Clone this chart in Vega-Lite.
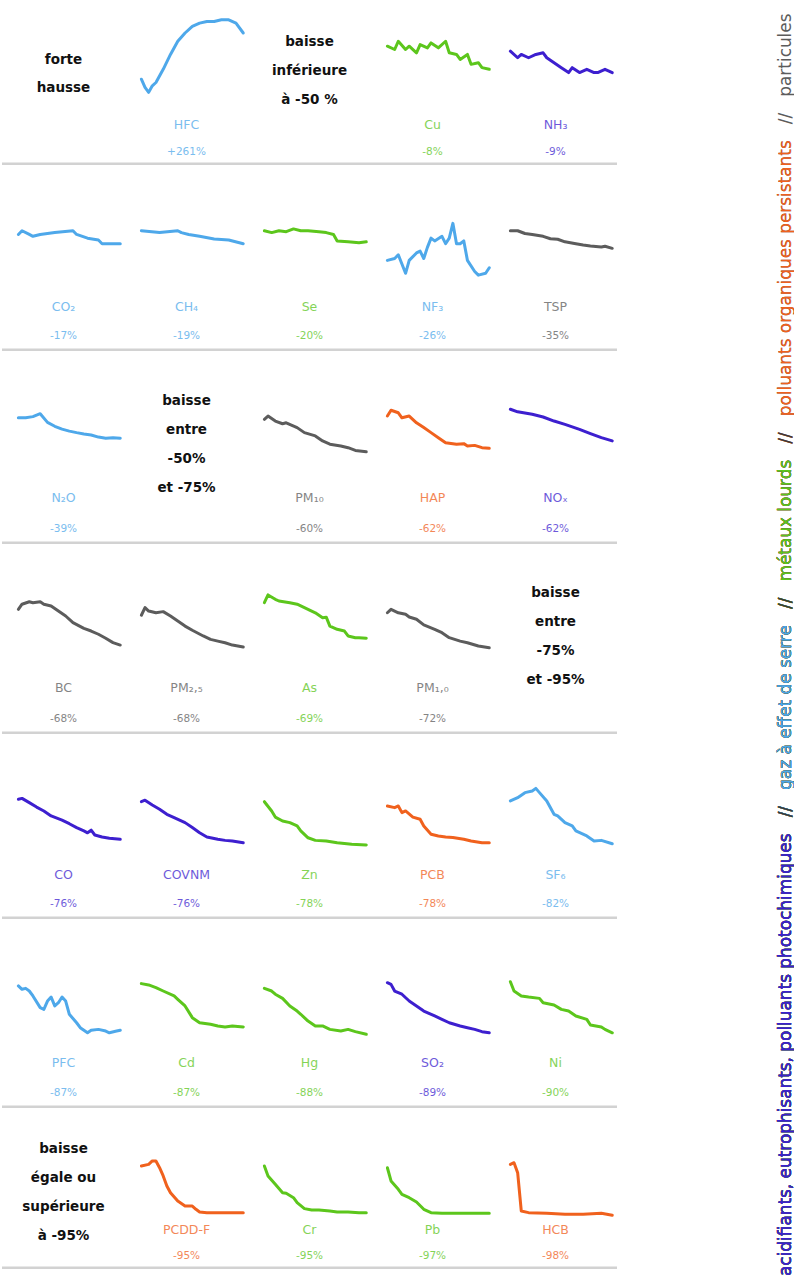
{
"$schema": "https://vega.github.io/schema/vega-lite/v6.json",
"padding": 0,
"config": {"view": {"stroke": null}, "font": "DejaVu Sans", "text": {"font": "DejaVu Sans"}},
"datasets": {
"cells": [
{"r":1,"c":1,"cat":["forte","hausse"]},
{"r":1,"c":2,"name":"HFC","pct":"+261%","grp":"ges","years":[1990,1991,1992,1993,1994,1996,1998,2000,2002,2004,2006,2008,2010,2012,2014,2016,2018],"vals":[52,47,44,48,50,58,67,75,80,84,86,87,87,88,88,86,80]},
{"r":1,"c":3,"cat":["baisse","inférieure","à -50 %"]},
{"r":1,"c":4,"name":"Cu","pct":"-8%","grp":"met","years":[1990,1992,1993,1995,1996,1998,1999,2001,2002,2004,2006,2007,2009,2010,2012,2013,2015,2016,2018],"vals":[72,70,75,70,72,68,73,71,74,71,75,68,67,64,67,61,62,59,58]},
{"r":1,"c":5,"name":"NH₃","pct":"-9%","grp":"acid","years":[1990,1992,1993,1995,1997,1999,2000,2002,2004,2006,2007,2009,2011,2013,2014,2016,2018],"vals":[69,65,67,65,67,68,65,62,59,56,59,56,58,56,56,58,56]},
{"r":2,"c":1,"name":"CO₂","pct":"-17%","grp":"ges","years":[1990,1991,1993,1994,1996,2000,2005,2006,2009,2012,2013,2015,2018],"vals":[63,65,63,62,63,64,65,63,61,60,58,58,58]},
{"r":2,"c":2,"name":"CH₄","pct":"-19%","grp":"ges","years":[1990,1995,2000,2001,2003,2006,2010,2014,2018],"vals":[65,64,65,64,63,62,60.5,60,58]},
{"r":2,"c":3,"name":"Se","pct":"-20%","grp":"met","years":[1990,1992,1994,1996,1998,2000,2002,2005,2007,2009,2010,2013,2016,2018],"vals":[65,64,65,64.5,66,65,65,64.5,64,63,59.5,59,58.5,59]},
{"r":2,"c":4,"name":"NF₃","pct":"-26%","grp":"ges","years":[1990,1992,1993,1995,1996,1998,1999,2000,2001,2002,2003,2005,2006,2007,2008,2009,2010,2011,2012,2014,2015,2017,2018],"vals":[49,50,52,42,49,53,54,50,56,61,59.5,62,58,61,69,58,58,59.5,49,43,41,42,45]},
{"r":2,"c":5,"name":"TSP","pct":"-35%","grp":"part","years":[1990,1992,1994,1996,1999,2001,2003,2005,2008,2010,2012,2015,2016,2018],"vals":[65,65,63.5,63,62,60.7,60.4,59,58,57.3,56.8,56.2,56.6,55.5]},
{"r":3,"c":1,"name":"N₂O","pct":"-39%","grp":"ges","years":[1990,1992,1994,1996,1998,2000,2002,2004,2006,2008,2010,2012,2014,2016,2018],"vals":[65.4,65.4,66,67.5,63,61,59.5,58.5,57.7,57,56.5,55.4,54.8,55.1,54.8]},
{"r":3,"c":2,"cat":["baisse","entre","-50%","et -75%"]},
{"r":3,"c":3,"name":"PM₁₀","pct":"-60%","grp":"part","years":[1990,1991,1993,1995,1996,1999,2001,2004,2006,2008,2011,2013,2015,2018],"vals":[64.6,66.3,63.7,62.3,62.8,60.3,57.7,56,53.4,51.7,50.8,49.9,48.5,47.8]},
{"r":3,"c":4,"name":"HAP","pct":"-62%","grp":"pop","years":[1990,1991,1993,1994,1996,1998,2000,2002,2004,2006,2009,2011,2012,2014,2016,2018],"vals":[66.3,69.3,68,65.4,66.3,62.8,60.3,57.7,55.1,52.5,51.7,52,50.8,51.1,49.9,49.6]},
{"r":3,"c":5,"name":"NOₓ","pct":"-62%","grp":"acid","years":[1990,1992,1996,1999,2002,2005,2009,2012,2015,2018],"vals":[69.8,68.5,67.2,65.8,63.7,62,59.4,57.2,55.1,53.4]},
{"r":4,"c":1,"name":"BC","pct":"-68%","grp":"part","years":[1990,1991,1993,1994,1996,1997,1999,2001,2003,2005,2008,2010,2012,2014,2016,2018],"vals":[65.6,68.3,69.6,69.1,69.6,68.3,67.4,64.7,62.1,58.6,55.6,54.2,52.5,50.4,48.1,46.8]},
{"r":4,"c":2,"name":"PM₂,₅","pct":"-68%","grp":"part","years":[1990,1991,1992,1994,1996,1998,2000,2002,2004,2007,2009,2011,2013,2015,2018],"vals":[62.5,66.5,64.7,63.8,64.4,62.1,59.5,56.8,54.6,51.6,49.8,48.9,48,46.8,45.8]},
{"r":4,"c":3,"name":"As","pct":"-69%","grp":"met","years":[1990,1991,1993,1994,1997,1999,2001,2004,2006,2007,2008,2010,2012,2013,2015,2016,2018],"vals":[69.1,73.2,70.9,70,69.1,68.3,66.5,63.8,61.2,61.5,56.8,55.1,54.2,51.6,50.7,50.7,50.4]},
{"r":4,"c":4,"name":"PM₁,₀","pct":"-72%","grp":"part","years":[1990,1991,1993,1995,1996,1998,2000,2003,2005,2007,2010,2012,2015,2018],"vals":[63.8,65.6,63.8,63,61.6,60.4,57.4,55.1,53.3,50.7,48.9,48,46.3,45.4]},
{"r":4,"c":5,"cat":["baisse","entre","-75%","et -95%"]},
{"r":5,"c":1,"name":"CO","pct":"-76%","grp":"acid","years":[1990,1991,1993,1995,1997,1999,2002,2004,2006,2008,2009,2010,2011,2013,2015,2018],"vals":[64.7,65.2,62.9,60.5,58.4,55.7,53.4,51.5,49.4,47.6,46.6,48,45.4,44.3,43.6,43.1]},
{"r":5,"c":2,"name":"COVNM","pct":"-76%","grp":"acid","years":[1990,1991,1993,1995,1997,1999,2002,2004,2006,2008,2011,2013,2015,2018],"vals":[63.4,64.2,61.6,59.3,56.6,54.8,52.1,49.4,46.6,44.3,43.1,42.5,42.2,41.2]},
{"r":5,"c":3,"name":"Zn","pct":"-78%","grp":"met","years":[1990,1992,1993,1995,1997,1999,2000,2002,2004,2007,2010,2014,2018],"vals":[63.4,58.4,55.1,53,52.1,50.3,47.6,43.9,42.5,42.2,41.2,40.4,40]},
{"r":5,"c":4,"name":"PCB","pct":"-78%","grp":"pop","years":[1990,1992,1993,1994,1995,1997,1999,2000,2002,2004,2006,2008,2011,2013,2016,2018],"vals":[61.1,60.2,61.1,57.5,58.4,55.1,53.9,50.3,45.8,44.9,44.3,44,43.1,42.2,41.2,41.2]},
{"r":5,"c":5,"name":"SF₆","pct":"-82%","grp":"ges","years":[1990,1992,1994,1996,1997,1998,2000,2002,2003,2005,2007,2008,2011,2013,2015,2018],"vals":[63.8,65.6,68.3,69.2,70.6,68.3,63.8,56.6,55.7,52.1,50.3,47.6,44.9,42.2,42.5,40.7]},
{"r":6,"c":1,"name":"PFC","pct":"-87%","grp":"ges","years":[1990,1991,1992,1993,1994,1996,1997,1998,1999,2000,2001,2002,2003,2004,2006,2007,2009,2010,2012,2014,2015,2017,2018],"vals":[64.6,62.8,63.3,61.9,59.3,53.1,52.2,56.6,58.7,54,55.7,58.7,56.6,49.6,45.1,42.5,39.8,41.1,41.6,40.7,39.8,40.7,41.1]},
{"r":6,"c":2,"name":"Cd","pct":"-87%","grp":"met","years":[1990,1992,1994,1996,1999,2000,2002,2004,2006,2009,2011,2013,2015,2018],"vals":[65.8,65.1,63.7,61.9,59.3,57.5,54,47.8,45.1,44.3,43.4,42.9,43.4,42.9]},
{"r":6,"c":3,"name":"Hg","pct":"-88%","grp":"met","years":[1990,1992,1993,1995,1997,1999,2000,2002,2004,2006,2008,2011,2013,2015,2018],"vals":[63.3,61.9,60.2,58,54,51.3,49.6,46,43.4,43.4,41.6,40.7,41.6,40.4,39]},
{"r":6,"c":4,"name":"SO₂","pct":"-89%","grp":"acid","years":[1990,1991,1992,1994,1996,1998,2000,2003,2005,2007,2010,2012,2014,2016,2018],"vals":[66.3,65.4,61.9,60.2,56.6,54,51.3,48.7,46.9,45.1,43.4,42.5,41.6,40.4,39.8]},
{"r":6,"c":5,"name":"Ni","pct":"-90%","grp":"met","years":[1990,1991,1993,1995,1998,1999,2002,2004,2006,2008,2011,2012,2015,2016,2018],"vals":[66.8,61.9,59.3,58.7,58,55.7,54.5,52.2,51.3,48.7,46.9,43.9,42.9,41.6,39.8]},
{"r":7,"c":1,"cat":["baisse","égale ou","supérieure","à -95%"]},
{"r":7,"c":2,"name":"PCDD-F","pct":"-95%","grp":"pop","years":[1990,1992,1993,1994,1995,1996,1997,1998,2000,2002,2004,2005,2006,2008,2012,2015,2018],"vals":[64,65,67.1,67.1,62.9,57.8,51.6,47.4,42.2,39.1,39.1,37.1,35.4,35,35,35,35]},
{"r":7,"c":3,"name":"Cr","pct":"-95%","grp":"met","years":[1990,1991,1993,1995,1996,1998,1999,2001,2003,2005,2008,2010,2013,2016,2018],"vals":[64,57.8,52.6,47.4,47,44.3,41.2,37.5,36.6,36.6,36,35.4,35.4,35,35]},
{"r":7,"c":4,"name":"Pb","pct":"-97%","grp":"met","years":[1990,1991,1993,1994,1996,1998,2000,2002,2005,2011,2018],"vals":[62.9,54.7,49.5,46.4,44.3,41.6,37.1,35,34.6,34.6,34.6]},
{"r":7,"c":5,"name":"HCB","pct":"-98%","grp":"pop","years":[1990,1991,1992,1993,1995,2000,2005,2010,2015,2018],"vals":[65,66,59.8,36,35,34.6,34,34,34.6,33.4]}
],
"legend": [
{"txt":"acidifiants, eutrophisants, polluants photochimiques\u00a0\u00a0\u00a0//\u00a0\u00a0\u00a0gaz à effet de serre\u00a0\u00a0\u00a0//\u00a0\u00a0\u00a0métaux lourds\u00a0\u00a0\u00a0//\u00a0\u00a0\u00a0polluants organiques persistants\u00a0\u00a0\u00a0//\u00a0\u00a0\u00a0particules","grp":"part"},
{"txt":"acidifiants, eutrophisants, polluants photochimiques\u00a0\u00a0\u00a0//\u00a0\u00a0\u00a0gaz à effet de serre\u00a0\u00a0\u00a0//\u00a0\u00a0\u00a0métaux lourds\u00a0\u00a0\u00a0//\u00a0\u00a0\u00a0polluants organiques persistants","grp":"pop"},
{"txt":"acidifiants, eutrophisants, polluants photochimiques\u00a0\u00a0\u00a0//\u00a0\u00a0\u00a0gaz à effet de serre\u00a0\u00a0\u00a0//\u00a0\u00a0\u00a0métaux lourds\u00a0\u00a0\u00a0//","grp":"sep"},
{"txt":"acidifiants, eutrophisants, polluants photochimiques\u00a0\u00a0\u00a0//\u00a0\u00a0\u00a0gaz à effet de serre\u00a0\u00a0\u00a0//\u00a0\u00a0\u00a0métaux lourds","grp":"met"},
{"txt":"acidifiants, eutrophisants, polluants photochimiques\u00a0\u00a0\u00a0//\u00a0\u00a0\u00a0gaz à effet de serre\u00a0\u00a0\u00a0//","grp":"sep"},
{"txt":"acidifiants, eutrophisants, polluants photochimiques\u00a0\u00a0\u00a0//\u00a0\u00a0\u00a0gaz à effet de serre","grp":"ges"},
{"txt":"acidifiants, eutrophisants, polluants photochimiques\u00a0\u00a0\u00a0//","grp":"sep"},
{"txt":"acidifiants, eutrophisants, polluants photochimiques","grp":"acid"}
]
},
"spacing": 157,
"hconcat": [
{"spacing": 0, "vconcat": [
{"data":{"name":"cells"},"transform":[{"filter":"datum.r == 1"}],"facet":{"column":{"field":"c","type":"ordinal","title":null,"header":{"labels":false,"title":null}}},"spacing":0,"bounds":"flush",
 "spec":{"width":123,"height":165,"layer":[
  {"transform":[{"filter":"isValid(datum.vals)"},{"flatten":["years","vals"],"as":["year","v"]}],"mark":{"type":"line","strokeWidth":3,"strokeJoin":"round","strokeCap":"round"},"encoding":{"x":{"field":"year","type":"quantitative","scale":{"domain":[1985.5,2019.3]},"axis":null},"y":{"field":"v","type":"quantitative","scale":{"domain":[0,100]},"axis":null},"color":{"field":"grp","type":"nominal","scale":{"domain":["acid","ges","met","pop","part","sep"],"range":["#3d1fcf","#4ea8ea","#5cc61c","#f0611d","#5c5c5c","#3a3a3a"]},"legend":null}}},
  {"transform":[{"filter":"isValid(datum.name)"}],"mark":{"type":"text","fontSize":12.5,"opacity":0.75,"baseline":"middle"},"encoding":{"y":{"datum":24,"type":"quantitative"},"text":{"field":"name"},"color":{"field":"grp","type":"nominal","legend":null}}},
  {"transform":[{"filter":"isValid(datum.pct)"}],"mark":{"type":"text","fontSize":10.5,"opacity":0.75,"baseline":"middle"},"encoding":{"y":{"datum":8,"type":"quantitative"},"text":{"field":"pct"},"color":{"field":"grp","type":"nominal","legend":null}}},
  {"transform":[{"filter":"isValid(datum.cat) && length(datum.cat) == 2"}],"mark":{"type":"text","fontSize":13.5,"fontWeight":"bold","lineHeight":28,"color":"#111111","baseline":"middle"},"encoding":{"y":{"datum":63.6,"type":"quantitative"},"text":{"field":"cat"}}},
  {"transform":[{"filter":"isValid(datum.cat) && length(datum.cat) > 2"}],"mark":{"type":"text","fontSize":13.5,"fontWeight":"bold","lineHeight":29,"color":"#111111","baseline":"middle"},"encoding":{"y":{"datum":74.3,"type":"quantitative"},"text":{"field":"cat"}}},
  {"mark":{"type":"rule","color":"#d2d2d2","strokeWidth":2.5},"encoding":{"y":{"datum":0.7,"type":"quantitative"}}}
 ]}},
{"data":{"name":"cells"},"transform":[{"filter":"datum.r == 2"}],"facet":{"column":{"field":"c","type":"ordinal","title":null,"header":{"labels":false,"title":null}}},"spacing":0,"bounds":"flush",
 "spec":{"width":123,"height":185,"layer":[
  {"transform":[{"filter":"isValid(datum.vals)"},{"flatten":["years","vals"],"as":["year","v"]}],"mark":{"type":"line","strokeWidth":3,"strokeJoin":"round","strokeCap":"round"},"encoding":{"x":{"field":"year","type":"quantitative","scale":{"domain":[1985.5,2019.3]},"axis":null},"y":{"field":"v","type":"quantitative","scale":{"domain":[0,100]},"axis":null},"color":{"field":"grp","type":"nominal","scale":{"domain":["acid","ges","met","pop","part","sep"],"range":["#3d1fcf","#4ea8ea","#5cc61c","#f0611d","#5c5c5c","#3a3a3a"]},"legend":null}}},
  {"transform":[{"filter":"isValid(datum.name)"}],"mark":{"type":"text","fontSize":12.5,"opacity":0.75,"baseline":"middle"},"encoding":{"y":{"datum":24,"type":"quantitative"},"text":{"field":"name"},"color":{"field":"grp","type":"nominal","legend":null}}},
  {"transform":[{"filter":"isValid(datum.pct)"}],"mark":{"type":"text","fontSize":10.5,"opacity":0.75,"baseline":"middle"},"encoding":{"y":{"datum":8,"type":"quantitative"},"text":{"field":"pct"},"color":{"field":"grp","type":"nominal","legend":null}}},
  {"transform":[{"filter":"isValid(datum.cat) && length(datum.cat) == 2"}],"mark":{"type":"text","fontSize":13.5,"fontWeight":"bold","lineHeight":28,"color":"#111111","baseline":"middle"},"encoding":{"y":{"datum":63.6,"type":"quantitative"},"text":{"field":"cat"}}},
  {"transform":[{"filter":"isValid(datum.cat) && length(datum.cat) > 2"}],"mark":{"type":"text","fontSize":13.5,"fontWeight":"bold","lineHeight":29,"color":"#111111","baseline":"middle"},"encoding":{"y":{"datum":74.3,"type":"quantitative"},"text":{"field":"cat"}}},
  {"mark":{"type":"rule","color":"#d2d2d2","strokeWidth":2.5},"encoding":{"y":{"datum":0.7,"type":"quantitative"}}}
 ]}},
{"data":{"name":"cells"},"transform":[{"filter":"datum.r == 3"}],"facet":{"column":{"field":"c","type":"ordinal","title":null,"header":{"labels":false,"title":null}}},"spacing":0,"bounds":"flush",
 "spec":{"width":123,"height":193,"layer":[
  {"transform":[{"filter":"isValid(datum.vals)"},{"flatten":["years","vals"],"as":["year","v"]}],"mark":{"type":"line","strokeWidth":3,"strokeJoin":"round","strokeCap":"round"},"encoding":{"x":{"field":"year","type":"quantitative","scale":{"domain":[1985.5,2019.3]},"axis":null},"y":{"field":"v","type":"quantitative","scale":{"domain":[0,100]},"axis":null},"color":{"field":"grp","type":"nominal","scale":{"domain":["acid","ges","met","pop","part","sep"],"range":["#3d1fcf","#4ea8ea","#5cc61c","#f0611d","#5c5c5c","#3a3a3a"]},"legend":null}}},
  {"transform":[{"filter":"isValid(datum.name)"}],"mark":{"type":"text","fontSize":12.5,"opacity":0.75,"baseline":"middle"},"encoding":{"y":{"datum":24,"type":"quantitative"},"text":{"field":"name"},"color":{"field":"grp","type":"nominal","legend":null}}},
  {"transform":[{"filter":"isValid(datum.pct)"}],"mark":{"type":"text","fontSize":10.5,"opacity":0.75,"baseline":"middle"},"encoding":{"y":{"datum":8,"type":"quantitative"},"text":{"field":"pct"},"color":{"field":"grp","type":"nominal","legend":null}}},
  {"transform":[{"filter":"isValid(datum.cat) && length(datum.cat) == 2"}],"mark":{"type":"text","fontSize":13.5,"fontWeight":"bold","lineHeight":28,"color":"#111111","baseline":"middle"},"encoding":{"y":{"datum":63.6,"type":"quantitative"},"text":{"field":"cat"}}},
  {"transform":[{"filter":"isValid(datum.cat) && length(datum.cat) > 2"}],"mark":{"type":"text","fontSize":13.5,"fontWeight":"bold","lineHeight":29,"color":"#111111","baseline":"middle"},"encoding":{"y":{"datum":74.3,"type":"quantitative"},"text":{"field":"cat"}}},
  {"mark":{"type":"rule","color":"#d2d2d2","strokeWidth":2.5},"encoding":{"y":{"datum":0.7,"type":"quantitative"}}}
 ]}},
{"data":{"name":"cells"},"transform":[{"filter":"datum.r == 4"}],"facet":{"column":{"field":"c","type":"ordinal","title":null,"header":{"labels":false,"title":null}}},"spacing":0,"bounds":"flush",
 "spec":{"width":123,"height":190,"layer":[
  {"transform":[{"filter":"isValid(datum.vals)"},{"flatten":["years","vals"],"as":["year","v"]}],"mark":{"type":"line","strokeWidth":3,"strokeJoin":"round","strokeCap":"round"},"encoding":{"x":{"field":"year","type":"quantitative","scale":{"domain":[1985.5,2019.3]},"axis":null},"y":{"field":"v","type":"quantitative","scale":{"domain":[0,100]},"axis":null},"color":{"field":"grp","type":"nominal","scale":{"domain":["acid","ges","met","pop","part","sep"],"range":["#3d1fcf","#4ea8ea","#5cc61c","#f0611d","#5c5c5c","#3a3a3a"]},"legend":null}}},
  {"transform":[{"filter":"isValid(datum.name)"}],"mark":{"type":"text","fontSize":12.5,"opacity":0.75,"baseline":"middle"},"encoding":{"y":{"datum":24,"type":"quantitative"},"text":{"field":"name"},"color":{"field":"grp","type":"nominal","legend":null}}},
  {"transform":[{"filter":"isValid(datum.pct)"}],"mark":{"type":"text","fontSize":10.5,"opacity":0.75,"baseline":"middle"},"encoding":{"y":{"datum":8,"type":"quantitative"},"text":{"field":"pct"},"color":{"field":"grp","type":"nominal","legend":null}}},
  {"transform":[{"filter":"isValid(datum.cat) && length(datum.cat) == 2"}],"mark":{"type":"text","fontSize":13.5,"fontWeight":"bold","lineHeight":28,"color":"#111111","baseline":"middle"},"encoding":{"y":{"datum":63.6,"type":"quantitative"},"text":{"field":"cat"}}},
  {"transform":[{"filter":"isValid(datum.cat) && length(datum.cat) > 2"}],"mark":{"type":"text","fontSize":13.5,"fontWeight":"bold","lineHeight":29,"color":"#111111","baseline":"middle"},"encoding":{"y":{"datum":74.3,"type":"quantitative"},"text":{"field":"cat"}}},
  {"mark":{"type":"rule","color":"#d2d2d2","strokeWidth":2.5},"encoding":{"y":{"datum":0.7,"type":"quantitative"}}}
 ]}},
{"data":{"name":"cells"},"transform":[{"filter":"datum.r == 5"}],"facet":{"column":{"field":"c","type":"ordinal","title":null,"header":{"labels":false,"title":null}}},"spacing":0,"bounds":"flush",
 "spec":{"width":123,"height":185,"layer":[
  {"transform":[{"filter":"isValid(datum.vals)"},{"flatten":["years","vals"],"as":["year","v"]}],"mark":{"type":"line","strokeWidth":3,"strokeJoin":"round","strokeCap":"round"},"encoding":{"x":{"field":"year","type":"quantitative","scale":{"domain":[1985.5,2019.3]},"axis":null},"y":{"field":"v","type":"quantitative","scale":{"domain":[0,100]},"axis":null},"color":{"field":"grp","type":"nominal","scale":{"domain":["acid","ges","met","pop","part","sep"],"range":["#3d1fcf","#4ea8ea","#5cc61c","#f0611d","#5c5c5c","#3a3a3a"]},"legend":null}}},
  {"transform":[{"filter":"isValid(datum.name)"}],"mark":{"type":"text","fontSize":12.5,"opacity":0.75,"baseline":"middle"},"encoding":{"y":{"datum":24,"type":"quantitative"},"text":{"field":"name"},"color":{"field":"grp","type":"nominal","legend":null}}},
  {"transform":[{"filter":"isValid(datum.pct)"}],"mark":{"type":"text","fontSize":10.5,"opacity":0.75,"baseline":"middle"},"encoding":{"y":{"datum":8,"type":"quantitative"},"text":{"field":"pct"},"color":{"field":"grp","type":"nominal","legend":null}}},
  {"transform":[{"filter":"isValid(datum.cat) && length(datum.cat) == 2"}],"mark":{"type":"text","fontSize":13.5,"fontWeight":"bold","lineHeight":28,"color":"#111111","baseline":"middle"},"encoding":{"y":{"datum":63.6,"type":"quantitative"},"text":{"field":"cat"}}},
  {"transform":[{"filter":"isValid(datum.cat) && length(datum.cat) > 2"}],"mark":{"type":"text","fontSize":13.5,"fontWeight":"bold","lineHeight":29,"color":"#111111","baseline":"middle"},"encoding":{"y":{"datum":74.3,"type":"quantitative"},"text":{"field":"cat"}}},
  {"mark":{"type":"rule","color":"#d2d2d2","strokeWidth":2.5},"encoding":{"y":{"datum":0.7,"type":"quantitative"}}}
 ]}},
{"data":{"name":"cells"},"transform":[{"filter":"datum.r == 6"}],"facet":{"column":{"field":"c","type":"ordinal","title":null,"header":{"labels":false,"title":null}}},"spacing":0,"bounds":"flush",
 "spec":{"width":123,"height":189,"layer":[
  {"transform":[{"filter":"isValid(datum.vals)"},{"flatten":["years","vals"],"as":["year","v"]}],"mark":{"type":"line","strokeWidth":3,"strokeJoin":"round","strokeCap":"round"},"encoding":{"x":{"field":"year","type":"quantitative","scale":{"domain":[1985.5,2019.3]},"axis":null},"y":{"field":"v","type":"quantitative","scale":{"domain":[0,100]},"axis":null},"color":{"field":"grp","type":"nominal","scale":{"domain":["acid","ges","met","pop","part","sep"],"range":["#3d1fcf","#4ea8ea","#5cc61c","#f0611d","#5c5c5c","#3a3a3a"]},"legend":null}}},
  {"transform":[{"filter":"isValid(datum.name)"}],"mark":{"type":"text","fontSize":12.5,"opacity":0.75,"baseline":"middle"},"encoding":{"y":{"datum":24,"type":"quantitative"},"text":{"field":"name"},"color":{"field":"grp","type":"nominal","legend":null}}},
  {"transform":[{"filter":"isValid(datum.pct)"}],"mark":{"type":"text","fontSize":10.5,"opacity":0.75,"baseline":"middle"},"encoding":{"y":{"datum":8,"type":"quantitative"},"text":{"field":"pct"},"color":{"field":"grp","type":"nominal","legend":null}}},
  {"transform":[{"filter":"isValid(datum.cat) && length(datum.cat) == 2"}],"mark":{"type":"text","fontSize":13.5,"fontWeight":"bold","lineHeight":28,"color":"#111111","baseline":"middle"},"encoding":{"y":{"datum":63.6,"type":"quantitative"},"text":{"field":"cat"}}},
  {"transform":[{"filter":"isValid(datum.cat) && length(datum.cat) > 2"}],"mark":{"type":"text","fontSize":13.5,"fontWeight":"bold","lineHeight":29,"color":"#111111","baseline":"middle"},"encoding":{"y":{"datum":74.3,"type":"quantitative"},"text":{"field":"cat"}}},
  {"mark":{"type":"rule","color":"#d2d2d2","strokeWidth":2.5},"encoding":{"y":{"datum":0.7,"type":"quantitative"}}}
 ]}},
{"data":{"name":"cells"},"transform":[{"filter":"datum.r == 7"}],"facet":{"column":{"field":"c","type":"ordinal","title":null,"header":{"labels":false,"title":null}}},"spacing":0,"bounds":"flush",
 "spec":{"width":123,"height":161,"layer":[
  {"transform":[{"filter":"isValid(datum.vals)"},{"flatten":["years","vals"],"as":["year","v"]}],"mark":{"type":"line","strokeWidth":3,"strokeJoin":"round","strokeCap":"round"},"encoding":{"x":{"field":"year","type":"quantitative","scale":{"domain":[1985.5,2019.3]},"axis":null},"y":{"field":"v","type":"quantitative","scale":{"domain":[0,100]},"axis":null},"color":{"field":"grp","type":"nominal","scale":{"domain":["acid","ges","met","pop","part","sep"],"range":["#3d1fcf","#4ea8ea","#5cc61c","#f0611d","#5c5c5c","#3a3a3a"]},"legend":null}}},
  {"transform":[{"filter":"isValid(datum.name)"}],"mark":{"type":"text","fontSize":12.5,"opacity":0.75,"baseline":"middle"},"encoding":{"y":{"datum":24,"type":"quantitative"},"text":{"field":"name"},"color":{"field":"grp","type":"nominal","legend":null}}},
  {"transform":[{"filter":"isValid(datum.pct)"}],"mark":{"type":"text","fontSize":10.5,"opacity":0.75,"baseline":"middle"},"encoding":{"y":{"datum":8,"type":"quantitative"},"text":{"field":"pct"},"color":{"field":"grp","type":"nominal","legend":null}}},
  {"transform":[{"filter":"isValid(datum.cat) && length(datum.cat) == 2"}],"mark":{"type":"text","fontSize":13.5,"fontWeight":"bold","lineHeight":28,"color":"#111111","baseline":"middle"},"encoding":{"y":{"datum":63.6,"type":"quantitative"},"text":{"field":"cat"}}},
  {"transform":[{"filter":"isValid(datum.cat) && length(datum.cat) > 2"}],"mark":{"type":"text","fontSize":13.5,"fontWeight":"bold","lineHeight":29,"color":"#111111","baseline":"middle"},"encoding":{"y":{"datum":74.3,"type":"quantitative"},"text":{"field":"cat"}}},
  {"mark":{"type":"rule","color":"#d2d2d2","strokeWidth":2.5},"encoding":{"y":{"datum":0.7,"type":"quantitative"}}}
 ]}}
]},
{"width":20,"height":1276,"data":{"name":"legend"},
 "mark":{"type":"text","angle":270,"align":"left","baseline":"middle","fontSize":16.9},
 "encoding":{"y":{"datum":0,"type":"quantitative","scale":{"domain":[0,1]},"axis":null},"text":{"field":"txt"},"color":{"field":"grp","type":"nominal","legend":null}}}
]
}
